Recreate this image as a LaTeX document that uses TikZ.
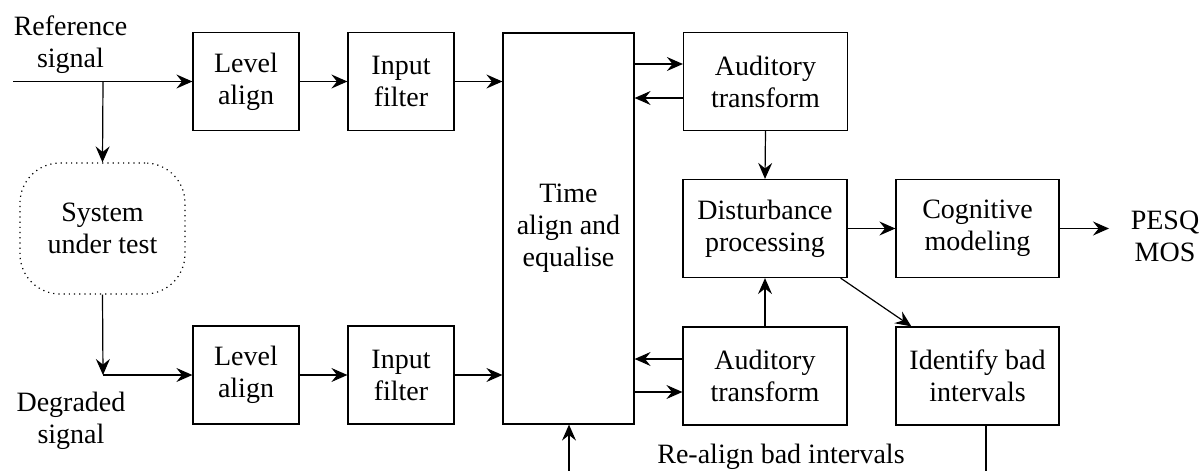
\documentclass[tikz,border=0pt]{standalone}
\usepackage{fontspec}
\setmainfont{Liberation Serif}
\newfontfamily\libserif{Liberation Serif}
\usetikzlibrary{arrows.meta,calc}
\begin{document}
\begin{tikzpicture}[x=0.5pt,y=-0.5pt,
  every node/.style={font=\libserif\fontsize{14pt}{16pt}\selectfont, align=center, inner sep=0pt},
  box/.style={draw, line width=0.6pt, minimum height=49pt},
  smallbox/.style={box, minimum width=53pt},
  widebox/.style={box, minimum width=82pt},
  conn/.style={line width=0.6pt},
  arr/.style={conn, -{Stealth[length=8pt,width=7pt,inset=2.8pt]}}
]
\useasboundingbox (0,0) rectangle (1200,471);

% boxes
\node[smallbox] (la1) at (246,81.5) {Level\\align};
\node[smallbox] (if1) at (401,81.5) {Input\\filter};
\node[smallbox] (la2) at (246,375) {Level\\align};
\node[smallbox] (if2) at (401,375) {Input\\filter};
\node[box, minimum width=65.5pt, minimum height=195.5pt] (ta) at (568.5,228.5) {Time\\align and\\equalise};
\node[widebox] (at1) at (765.5,81.5) {Auditory\\transform};
\node[widebox] (dp) at (765,228.5) {Disturbance\\processing};
\node[widebox] (at2) at (765,376) {Auditory\\transform};
\node[widebox, minimum width=81.5pt] (cm) at (977.5,228.5) {Cognitive\\modeling};
\node[widebox, minimum width=81.5pt] (ib) at (977.5,376) {Identify bad\\intervals};
\node[draw, line width=0.6pt, dotted, rounded corners=20pt, minimum width=82.5pt, minimum height=65.5pt] (sut) at (102.5,228.5) {System\\under test};

% labels
\node (reflab) at (70.5,44.5) {Reference\\signal};
\node (deglab) at (71,420.5) {Degraded\\signal};
\node (pesq) at (1165,236) {PESQ\\MOS};
\node[anchor=base] (realign) at (781,463) {Re-align bad intervals};

% coordinates
\coordinate (refin) at (13,81.5);
\coordinate (branch) at (103,81.5);
\coordinate (degcorner) at (103,375);
\coordinate (pesqend) at (1109,228.5);
\coordinate (yA) at (0,64);
\coordinate (yB) at (0,98);
\coordinate (yC) at (0,359);
\coordinate (yD) at (0,392);
\coordinate (ibdown) at (986,471);
\coordinate (realignup) at (569,471);

% connectors
\draw[arr] (refin) -- (la1.west);
\draw[arr] (branch) -- (sut.north);
\draw[arr] (la1) -- (if1);
\draw[arr] (if1.east) -- (ta.west |- if1.east);
\draw[arr] (sut.south) -- (degcorner);
\draw[arr] (degcorner) -- (la2.west);
\draw[arr] (la2) -- (if2);
\draw[arr] (if2.east) -- (ta.west |- if2.east);

\draw[arr] (ta.east |- yA) -- (at1.west |- yA);
\draw[arr] (at1.west |- yB) -- (ta.east |- yB);
\draw[arr] (at2.west |- yC) -- (ta.east |- yC);
\draw[arr] (ta.east |- yD) -- (at2.west |- yD);

\draw[arr] (at1.south) -- (dp.north);
\draw[arr] (at2.north) -- (dp.south);
\draw[arr] (dp) -- (cm);
\draw[arr] (cm.east) -- (pesqend);
\draw[arr] ([xshift=-3.5pt]dp.south east) -- ([xshift=8pt]ib.north west);
\draw[conn] (ib.south -| ibdown) -- (ibdown);
\draw[arr] (realignup) -- (ta.south -| realignup);
\end{tikzpicture}
\end{document}
